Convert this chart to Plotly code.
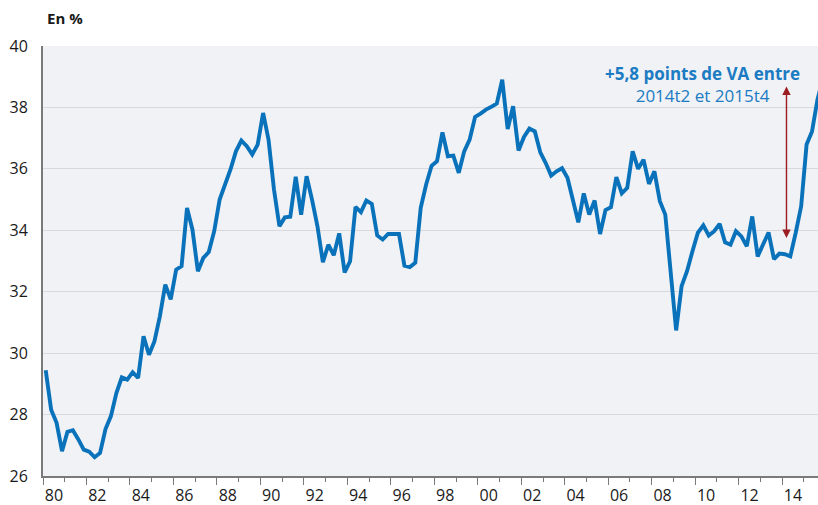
import plotly.graph_objects as go

# Quarterly series 1980t1 .. 2015t4 (En %)
start_year = 1980
values = [
    29.44, 28.16, 27.73, 26.81, 27.44, 27.49, 27.19, 26.86, 26.79, 26.61,
    26.75, 27.53, 27.95, 28.70, 29.21, 29.14, 29.38, 29.19, 30.55, 29.95,
    30.38, 31.20, 32.23, 31.75, 32.72, 32.83, 34.73, 34.02, 32.67, 33.10,
    33.29, 33.97, 35.00, 35.49, 35.98, 36.57, 36.92, 36.74, 36.47, 36.79,
    37.82, 36.95, 35.33, 34.13, 34.42, 34.44, 35.74, 34.51, 35.76, 35.00,
    34.13, 32.96, 33.53, 33.19, 33.90, 32.63, 32.99, 34.76, 34.59, 34.97,
    34.86, 33.83, 33.70, 33.88, 33.88, 33.88, 32.85, 32.80, 32.94, 34.73,
    35.49, 36.10, 36.25, 37.19, 36.41, 36.43, 35.87, 36.57, 36.95, 37.69,
    37.80, 37.93, 38.02, 38.13, 38.90, 37.30, 38.04, 36.60, 37.04, 37.31,
    37.22, 36.54, 36.19, 35.78, 35.92, 36.02, 35.71, 34.95, 34.26, 35.20,
    34.51, 34.97, 33.88, 34.66, 34.75, 35.73, 35.20, 35.38, 36.57, 36.00,
    36.30, 35.51, 35.92, 34.95, 34.51, 32.62, 30.74, 32.18, 32.67, 33.32,
    33.92, 34.16, 33.83, 33.97, 34.21, 33.61, 33.53, 33.97, 33.80, 33.48,
    34.45, 33.15, 33.53, 33.93, 33.06, 33.24, 33.22, 33.15, 33.92, 34.78,
    36.79, 37.22, 38.25, 38.95,
]
quarter_labels = [f"{start_year + i // 4}t{i % 4 + 1}" for i in range(len(values))]
x_vals = [start_year + (i + 0.5) / 4 for i in range(len(values))]

label_years = list(range(1980, 2016, 2))
tick_labels = [f"{y % 100:02d}" for y in label_years]
y_ticks = [26, 28, 30, 32, 34, 36, 38, 40]

annot_line1 = "+5,8 points de VA entre"
annot_line2 = "2014t2 et 2015t4"
arrow_x = 2014.2
arrow_from = 33.7
arrow_to = 38.68

FONT = "Open Sans"
AXIS_COL = "#7a7a7a"
LINE_COL = "#0a72ba"
TEXT_BLUE = "#1b7bc3"
ARROW_COL = "#9c1c22"

x_range = [1980, 2015.65]

fig = go.Figure()
fig.add_trace(go.Scatter(
    x=x_vals, y=values, mode="lines", text=quarter_labels,
    line=dict(color=LINE_COL, width=3.9), hoverinfo="text+y",
    showlegend=False,
))
# dummy trace to activate label axis
fig.add_trace(go.Scatter(x=[x_range[0]], y=[None], xaxis="x2", showlegend=False,
                         hoverinfo="skip"))

fig.update_layout(
    width=818, height=505,
    margin=dict(l=43, r=0, t=46, b=29, autoexpand=False),
    paper_bgcolor="white",
    plot_bgcolor="#f0f2f5",
    font=dict(family=FONT, size=16, color="#1a1a1a"),
    xaxis=dict(
        range=x_range, tickmode="linear", tick0=1980, dtick=2,
        showticklabels=False, ticks="outside", ticklen=7, tickwidth=1.2,
        tickcolor=AXIS_COL, showgrid=False, zeroline=False, automargin=False,
        showline=True, linecolor=AXIS_COL, linewidth=2,
        minor=dict(ticks="outside", tick0=1980, dtick=1, ticklen=4,
                   tickwidth=1, tickcolor=AXIS_COL, showgrid=False),
    ),
    xaxis2=dict(
        range=x_range, overlaying="x", side="bottom", anchor="y",
        tickmode="array", tickvals=[y + 0.5 for y in label_years],
        ticktext=tick_labels, ticks="", showgrid=False, zeroline=False,
        showline=False, ticklabelstandoff=8, automargin=False,
        tickfont=dict(family=FONT, size=16, color="#1a1a1a"),
    ),
    yaxis=dict(
        range=[26, 40], tickmode="array", tickvals=y_ticks, automargin=False,
        ticks="", showgrid=True, gridcolor="#d9d9db", gridwidth=1,
        zeroline=False, showline=True, linecolor=AXIS_COL, linewidth=2,
        ticklabelstandoff=10,
        tickfont=dict(family=FONT, size=16, color="#1a1a1a"),
    ),
    annotations=[
        dict(xref="paper", yref="paper", x=0.0, y=1.0, yshift=28, xshift=2,
             xanchor="left", yanchor="middle", showarrow=False,
             text="<b>En %</b>", font=dict(family=FONT, size=15, color="#1a1a1a")),
        dict(xref="x", yref="y", x=2010.34, y=38.75, xanchor="center",
             yanchor="middle", showarrow=False, align="center",
             text=f"<b>{annot_line1}</b><br>{annot_line2}",
             font=dict(family=FONT, size=17, color=TEXT_BLUE)),
        dict(xref="x", yref="y", axref="x", ayref="y",
             x=arrow_x, y=arrow_to, ax=arrow_x, ay=arrow_from,
             showarrow=True, arrowhead=2, arrowside="end+start",
             arrowsize=1.2, arrowwidth=1.4, arrowcolor=ARROW_COL, text=""),
    ],
)

fig.write_html(
    "out.html",
    config={"displayModeBar": False},
    post_script="document.body.style.margin='0px';document.body.style.overflow='hidden';",
)
